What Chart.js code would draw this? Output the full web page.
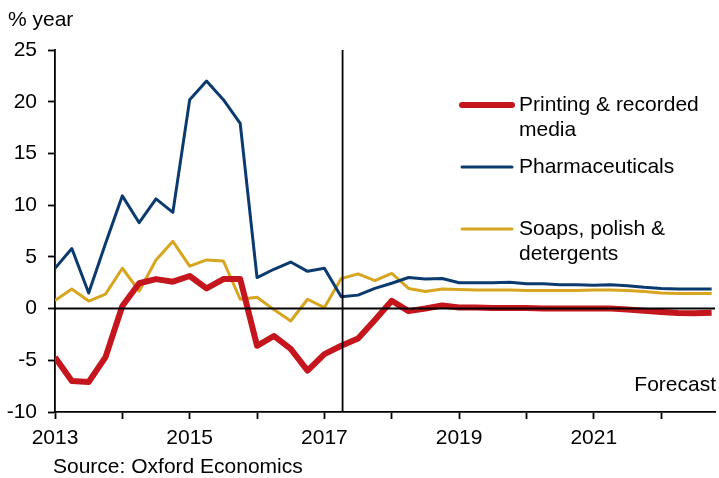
<!DOCTYPE html>
<html>
<head>
<meta charset="utf-8">
<script src="https://cdn.jsdelivr.net/npm/chart.js@4/dist/chart.umd.min.js"></script>
<style>
  html, body { margin: 0; padding: 0; background: #fff; }
  #wrap { width: 719px; height: 478px; }
</style>
</head>
<body>
<div id="wrap"><canvas id="chart" width="719" height="478"></canvas></div>
<script>
// Quarterly points, 2013 Q1 .. 2022 Q4 (x = year fraction)
const quarters = [];
for (let i = 0; i < 40; i++) quarters.push(2013 + i / 4);

const printing = [-4.7, -7.0, -7.1, -4.7, 0.25, 2.45, 2.85, 2.6, 3.15, 1.95,
  2.85, 2.85, -3.6, -2.65, -3.9, -6.0, -4.4, -3.6, -2.9, -1.1,
  0.75, -0.25, 0.0, 0.3, 0.1, 0.1, 0.05, 0.05, 0.05, 0.0,
  0.0, 0.0, 0.0, 0.0, -0.1, -0.2, -0.33, -0.43, -0.45, -0.4];

const pharma = [3.9, 5.8, 1.5, 6.3, 10.9, 8.3, 10.6, 9.3, 20.2, 22.0,
  20.2, 17.9, 3.0, 3.8, 4.5, 3.6, 3.9, 1.15, 1.3, 1.95,
  2.45, 3.0, 2.85, 2.9, 2.5, 2.5, 2.5, 2.55, 2.4, 2.4,
  2.3, 2.3, 2.25, 2.3, 2.2, 2.05, 1.95, 1.9, 1.9, 1.9];

const soaps = [0.77, 1.9, 0.73, 1.4, 3.9, 1.7, 4.7, 6.5, 4.1, 4.7,
  4.6, 0.9, 1.1, -0.1, -1.2, 0.9, 0.1, 2.9, 3.35, 2.7,
  3.4, 1.95, 1.65, 1.9, 1.85, 1.8, 1.8, 1.8, 1.75, 1.75,
  1.75, 1.75, 1.8, 1.8, 1.75, 1.65, 1.5, 1.45, 1.45, 1.45];

const yTicks = [-10, -5, 0, 5, 10, 15, 20, 25];
const forecastStart = 2017.27;

const RED = '#C4161C';
const BLUE = '#0B3A6F';
const GOLD = '#D8A520';
const FONT = 'Liberation Sans, Arial, sans-serif';
const FSIZE = 21;

function pts(arr) {
  return arr.map((v, i) => ({ x: quarters[i], y: v }));
}

// legend entries drawn by hand, beside the lines
const legendItems = [
  { color: RED, width: 6, lines: ['Printing & recorded', 'media'], y: 105 },
  { color: BLUE, width: 3, lines: ['Pharmaceuticals'], y: 167 },
  { color: GOLD, width: 3, lines: ['Soaps, polish &', 'detergents'], y: 229 }
];

const extras = {
  id: 'extras',
  afterDatasetsDraw(chart) {
    const ctx = chart.ctx;
    const area = chart.chartArea;
    const xs = chart.scales.x;
    const ys = chart.scales.y;
    ctx.save();
    // zero line
    const y0 = ys.getPixelForValue(0);
    ctx.strokeStyle = '#000';
    ctx.lineWidth = 2;
    ctx.beginPath();
    ctx.moveTo(area.left, y0);
    ctx.lineTo(area.right, y0);
    ctx.stroke();
    // forecast divider
    const xf = xs.getPixelForValue(forecastStart);
    ctx.lineWidth = 1.8;
    ctx.beginPath();
    ctx.moveTo(xf, area.top);
    ctx.lineTo(xf, area.bottom);
    ctx.stroke();
    ctx.restore();
  },
  afterDraw(chart) {
    const ctx = chart.ctx;
    ctx.save();
    ctx.fillStyle = '#000';
    ctx.font = FSIZE + 'px ' + FONT;
    ctx.textBaseline = 'middle';
    ctx.textAlign = 'left';
    ctx.fillText('% year', 8, 20);
    ctx.fillText('Source: Oxford Economics', 53, 467);
    ctx.textAlign = 'right';
    ctx.fillText('Forecast', 716, 385);

    ctx.textAlign = 'left';
    legendItems.forEach(item => {
      ctx.strokeStyle = item.color;
      ctx.lineWidth = item.width;
      ctx.lineCap = 'round';
      ctx.beginPath();
      ctx.moveTo(462, item.y);
      ctx.lineTo(512, item.y);
      ctx.stroke();
      item.lines.forEach((t, k) => {
        ctx.fillText(t, 519, item.y + k * 25);
      });
    });
    ctx.restore();
  }
};

new Chart(document.getElementById('chart'), {
  type: 'line',
  data: {
    datasets: [
      { label: 'Printing & recorded media', data: pts(printing), borderColor: RED, borderWidth: 6 },
      { label: 'Pharmaceuticals', data: pts(pharma), borderColor: BLUE, borderWidth: 3 },
      { label: 'Soaps, polish & detergents', data: pts(soaps), borderColor: GOLD, borderWidth: 3 }
    ]
  },
  options: {
    responsive: false,
    animation: false,
    devicePixelRatio: 1,
    elements: {
      point: { radius: 0 },
      line: { tension: 0, borderJoinStyle: 'round', borderCapStyle: 'butt' }
    },
    layout: { padding: { top: 50, right: 4, left: 0, bottom: 0 } },
    plugins: {
      legend: { display: false },
      tooltip: { enabled: false }
    },
    scales: {
      x: {
        type: 'linear',
        min: 2013,
        max: 2022.8,
        afterFit: s => { s.height = 66; },
        border: { display: true, color: '#000', width: 1.8 },
        grid: { drawOnChartArea: false, drawTicks: true, tickLength: 7, tickColor: '#000', tickWidth: 1.8 },
        ticks: {
          stepSize: 1,
          includeBounds: false,
          autoSkip: false,
          maxRotation: 0,
          padding: 7,
          color: '#000',
          font: { family: FONT, size: FSIZE },
          callback: v => (v % 2 === 1 ? String(v) : '')
        }
      },
      y: {
        min: -10,
        max: 25,
        afterFit: s => { s.width = 55; },
        afterBuildTicks: s => { s.ticks = yTicks.map(v => ({ value: v })); },
        border: { display: true, color: '#000', width: 1.8 },
        grid: { drawOnChartArea: false, drawTicks: true, tickLength: 7, tickColor: '#000', tickWidth: 1.8 },
        ticks: {
          padding: 11,
          color: '#000',
          font: { family: FONT, size: FSIZE }
        }
      }
    }
  },
  plugins: [extras]
});
</script>
</body>
</html>
